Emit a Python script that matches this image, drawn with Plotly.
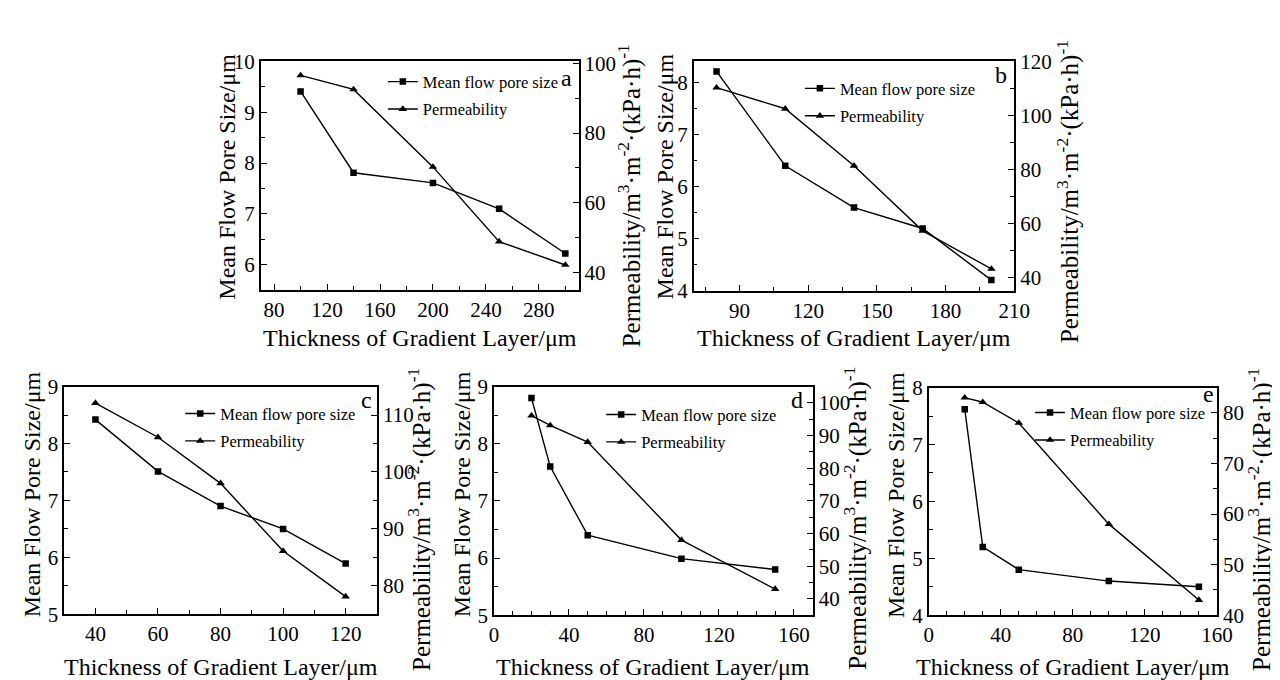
import plotly.graph_objects as go

# ---------------- data ----------------
a_thickness = [100, 140, 200, 250, 300]
a_pore = [9.41, 7.81, 7.61, 7.10, 6.22]
a_perm = [96.5, 92.5, 70.3, 48.9, 42.2]

b_thickness = [80, 110, 140, 170, 200]
b_pore = [8.21, 6.40, 5.60, 5.20, 4.21]
b_perm = [110.3, 102.5, 81.4, 57.3, 43.2]

c_thickness = [40, 60, 80, 100, 120]
c_pore = [8.42, 7.51, 6.90, 6.50, 5.89]
c_perm = [112.1, 106.1, 98.0, 86.1, 78.1]

d_thickness = [20, 30, 50, 100, 150]
d_pore = [8.80, 7.60, 6.40, 5.99, 5.80]
d_perm = [96.1, 93.1, 88.0, 58.0, 43.0]

e_thickness = [20, 30, 50, 100, 150]
e_pore = [7.62, 5.20, 4.80, 4.60, 4.50]
e_perm = [83.0, 82.1, 78.0, 58.0, 43.0]

panel_letters = ["a", "b", "c", "d", "e"]
series_names = ["Mean flow pore size", "Permeability"]
x_title = "Thickness of Gradient Layer/\u03bcm"
left_title = "Mean Flow Pore Size/\u03bcm"
right_title = "Permeability/m<sup>3</sup>\u00b7m<sup>-2</sup>\u00b7(kPa\u00b7h)<sup>-1</sup>"

# ---------------- layout helpers ----------------
W, H = 1280, 680
FONT = "Liberation Serif, Times New Roman, serif"
TICK_SIZE = 21
TITLE_SIZE = 24
RIGHT_TITLE_SIZE = 25
LEG_SIZE = 16.5
LETTER_SIZE = 24

def px(x):
    return x / W

def py(y):
    return 1 - y / H

panels = [
    dict(data=(a_thickness, a_pore, a_perm), box=(252, 575, 43, 280),
         xr=[70, 310], xd=40, x0=0, xm=20,
         yl=[5.5, 10], yld=1, ylm=0.5,
         yr=[35, 100.5], yrd=20, yrm=10,
         leg=(376, 46), letter=(563, 60),
         lt=(218, 162), rt=(627, 182), xt=(414, 330)),
    dict(data=(b_thickness, b_pore, b_perm), box=(692, 1018, 43, 281),
         xr=[70, 210], xd=30, x0=0, xm=15,
         yl=[4, 8.4], yld=1, ylm=0.5,
         yr=[35, 120], yrd=20, yrm=10,
         leg=(800, 53), letter=(1004, 57),
         lt=(663, 162), rt=(1073, 178), xt=(855, 330)),
    dict(data=(c_thickness, c_pore, c_perm), box=(52, 370, 380, 616),
         xr=[30, 130], xd=20, x0=0, xm=10,
         yl=[5, 9], yld=1, ylm=0.5,
         yr=[75, 115], yrd=10, yrm=5,
         leg=(170, 390), letter=(359, 394),
         lt=(19, 492), rt=(414, 518), xt=(211, 671)),
    dict(data=(d_thickness, d_pore, d_perm), box=(489, 813, 380, 617),
         xr=[0, 170], xd=40, x0=0, xm=10,
         yl=[5, 9], yld=1, ylm=0.5,
         yr=[35, 105], yrd=10, yrm=5,
         leg=(598, 391), letter=(797, 394),
         lt=(456, 492), rt=(857, 516), xt=(651, 671)),
    dict(data=(e_thickness, e_pore, e_perm), box=(931, 1224, 381, 617),
         xr=[0, 160], xd=40, x0=0, xm=10,
         yl=[4, 8], yld=1, ylm=0.5,
         yr=[40, 85], yrd=10, yrm=5,
         leg=(1034, 389), letter=(1215, 388),
         lt=(897, 492), rt=(1268, 518), xt=(1078, 671)),
]

fig = go.Figure()
layout = dict(
    width=W, height=H,
    margin=dict(l=0, r=0, t=0, b=0),
    paper_bgcolor="white", plot_bgcolor="white",
    font=dict(family=FONT, color="black", size=TICK_SIZE),
    showlegend=True,
)
annotations = []

axis_common = dict(showgrid=False, zeroline=False, showline=True, linecolor="black",
                   linewidth=1.6, ticks="inside", ticklen=6, tickwidth=1.2, tickcolor="black",
                   tickfont=dict(family=FONT, size=TICK_SIZE, color="black"))
minor_common = dict(ticks="inside", ticklen=4, tickcolor="black", tickwidth=1.2)

for i, p in enumerate(panels, start=1):
    xs, pore, perm = p["data"]
    xname = "x" if i == 1 else f"x{i}"
    yl_idx, yr_idx = 2 * i - 1, 2 * i
    ylname = "y" if yl_idx == 1 else f"y{yl_idx}"
    yrname = f"y{yr_idx}"
    legname = "legend" if i == 1 else f"legend{i}"
    x0, x1, y0, y1 = p["box"]

    fig.add_trace(go.Scatter(
        x=xs, y=pore, name=series_names[0], mode="lines+markers",
        xaxis=xname, yaxis=ylname, legend=legname, legendgroup=f"g{i}a",
        line=dict(color="black", width=1.4),
        marker=dict(symbol="square", size=6.5, color="black")))
    fig.add_trace(go.Scatter(
        x=xs, y=perm, name=series_names[1], mode="lines+markers",
        xaxis=xname, yaxis=yrname, legend=legname, legendgroup=f"g{i}b",
        line=dict(color="black", width=1.4),
        marker=dict(symbol="triangle-up", size=7.5, color="black")))

    xkey = "xaxis" if i == 1 else f"xaxis{i}"
    ylkey = "yaxis" if yl_idx == 1 else f"yaxis{yl_idx}"
    yrkey = f"yaxis{yr_idx}"

    layout[xkey] = dict(axis_common, domain=[px(x0), px(x1)], anchor=ylname,
                        range=p["xr"], tick0=p["x0"], dtick=p["xd"], mirror=True,
                        minor=dict(minor_common, dtick=p["xm"]))
    layout[ylkey] = dict(axis_common, domain=[py(y1), py(y0)], anchor=xname,
                         range=p["yl"], tick0=0, dtick=p["yld"], side="left",
                         minor=dict(minor_common, dtick=p["ylm"]))
    layout[yrkey] = dict(axis_common, anchor=xname, overlaying=ylname, side="right",
                         range=p["yr"], tick0=0, dtick=p["yrd"],
                         minor=dict(minor_common, dtick=p["yrm"]))
    layout[legname] = dict(x=px(p["leg"][0]), y=py(p["leg"][1]), xanchor="left", yanchor="top",
                           bgcolor="rgba(0,0,0,0)", borderwidth=0,
                           font=dict(family=FONT, size=LEG_SIZE, color="black"),
                           tracegroupgap=3, itemwidth=30)

    annotations.append(dict(text=panel_letters[i - 1], x=px(p["letter"][0]), y=py(p["letter"][1]),
                            xref="paper", yref="paper", showarrow=False,
                            xanchor="center", yanchor="middle",
                            font=dict(family=FONT, size=LETTER_SIZE, color="black")))
    annotations.append(dict(text=left_title, x=px(p["lt"][0]), y=py(p["lt"][1]),
                            xref="paper", yref="paper", showarrow=False, textangle=-90,
                            xanchor="center", yanchor="middle",
                            font=dict(family=FONT, size=TITLE_SIZE, color="black")))
    annotations.append(dict(text=right_title, x=px(p["rt"][0]), y=py(p["rt"][1]),
                            xref="paper", yref="paper", showarrow=False, textangle=-90,
                            xanchor="center", yanchor="middle",
                            font=dict(family=FONT, size=RIGHT_TITLE_SIZE, color="black")))
    annotations.append(dict(text=x_title, x=px(p["xt"][0]), y=py(p["xt"][1]),
                            xref="paper", yref="paper", showarrow=False,
                            xanchor="center", yanchor="middle",
                            font=dict(family=FONT, size=TITLE_SIZE, color="black")))

layout["annotations"] = annotations
fig.update_layout(**layout)
fig.write_html("out.html")
